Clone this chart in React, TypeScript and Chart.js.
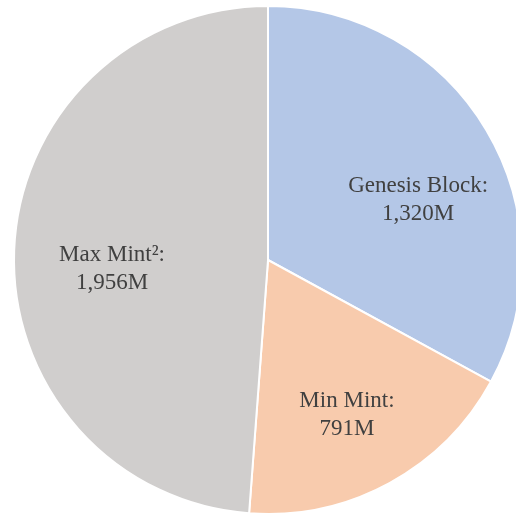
import React, { useEffect, useRef } from "react";
import { Chart, registerables } from "chart.js";

Chart.register(...registerables);

const categories = ["Genesis Block", "Min Mint", "Max Mint²"];
// slice sizes as drawn in the picture (Min Mint slice measures ~731 against its "791M" label)
const values = [1320, 731, 1956];
const valueLabels = ["1,320M", "791M", "1,956M"];
const colors = ["#b4c7e7", "#f8cbad", "#d0cecd"];

// label placement relative to each slice: angle shift (deg) and fraction of radius
const labelPlacement = [
  { shift: 10.9, frac: 0.628 },
  { shift: 2.45, frac: 0.706 },
  { shift: -7.65, frac: 0.617 },
];

const labelPlugin = {
  id: "sliceLabels",
  afterDatasetsDraw(chart: any) {
    const ctx = chart.ctx;
    const meta = chart.getDatasetMeta(0);
    ctx.save();
    ctx.font = "23px 'Liberation Serif', serif";
    ctx.fillStyle = "#404040";
    ctx.textAlign = "center";
    ctx.textBaseline = "alphabetic";
    meta.data.forEach((arc: any, i: number) => {
      const p = arc.getProps(["x", "y", "startAngle", "endAngle", "outerRadius"], true);
      const mid = (p.startAngle + p.endAngle) / 2 + (labelPlacement[i].shift * Math.PI) / 180;
      const r = p.outerRadius * labelPlacement[i].frac;
      const cx = p.x + Math.cos(mid) * r;
      const cy = p.y + Math.sin(mid) * r;
      ctx.fillText(categories[i] + ":", cx, cy - 14);
      ctx.fillText(valueLabels[i], cx, cy + 14);
    });
    ctx.restore();
  },
};

export default function App() {
  const ref = useRef<HTMLCanvasElement>(null);
  useEffect(() => {
    if (!ref.current) return;
    const chart = new Chart(ref.current, {
      type: "pie",
      data: {
        labels: categories,
        datasets: [
          {
            data: values,
            backgroundColor: colors,
            borderColor: "#ffffff",
            borderWidth: 2,
          },
        ],
      },
      options: {
        responsive: false,
        animation: false,
        layout: { padding: { top: 5, bottom: 5, left: 0, right: 0 } },
        plugins: { legend: { display: false }, tooltip: { enabled: false } },
      },
      plugins: [labelPlugin],
    });
    return () => chart.destroy();
  }, []);
  return (
    <div
      style={{
        position: "fixed",
        left: 0,
        top: 0,
        width: 516,
        height: 516,
        overflow: "hidden",
        background: "#fff",
      }}
    >
      <canvas ref={ref} width={536} height={520} style={{ display: "block" }} />
    </div>
  );
}
